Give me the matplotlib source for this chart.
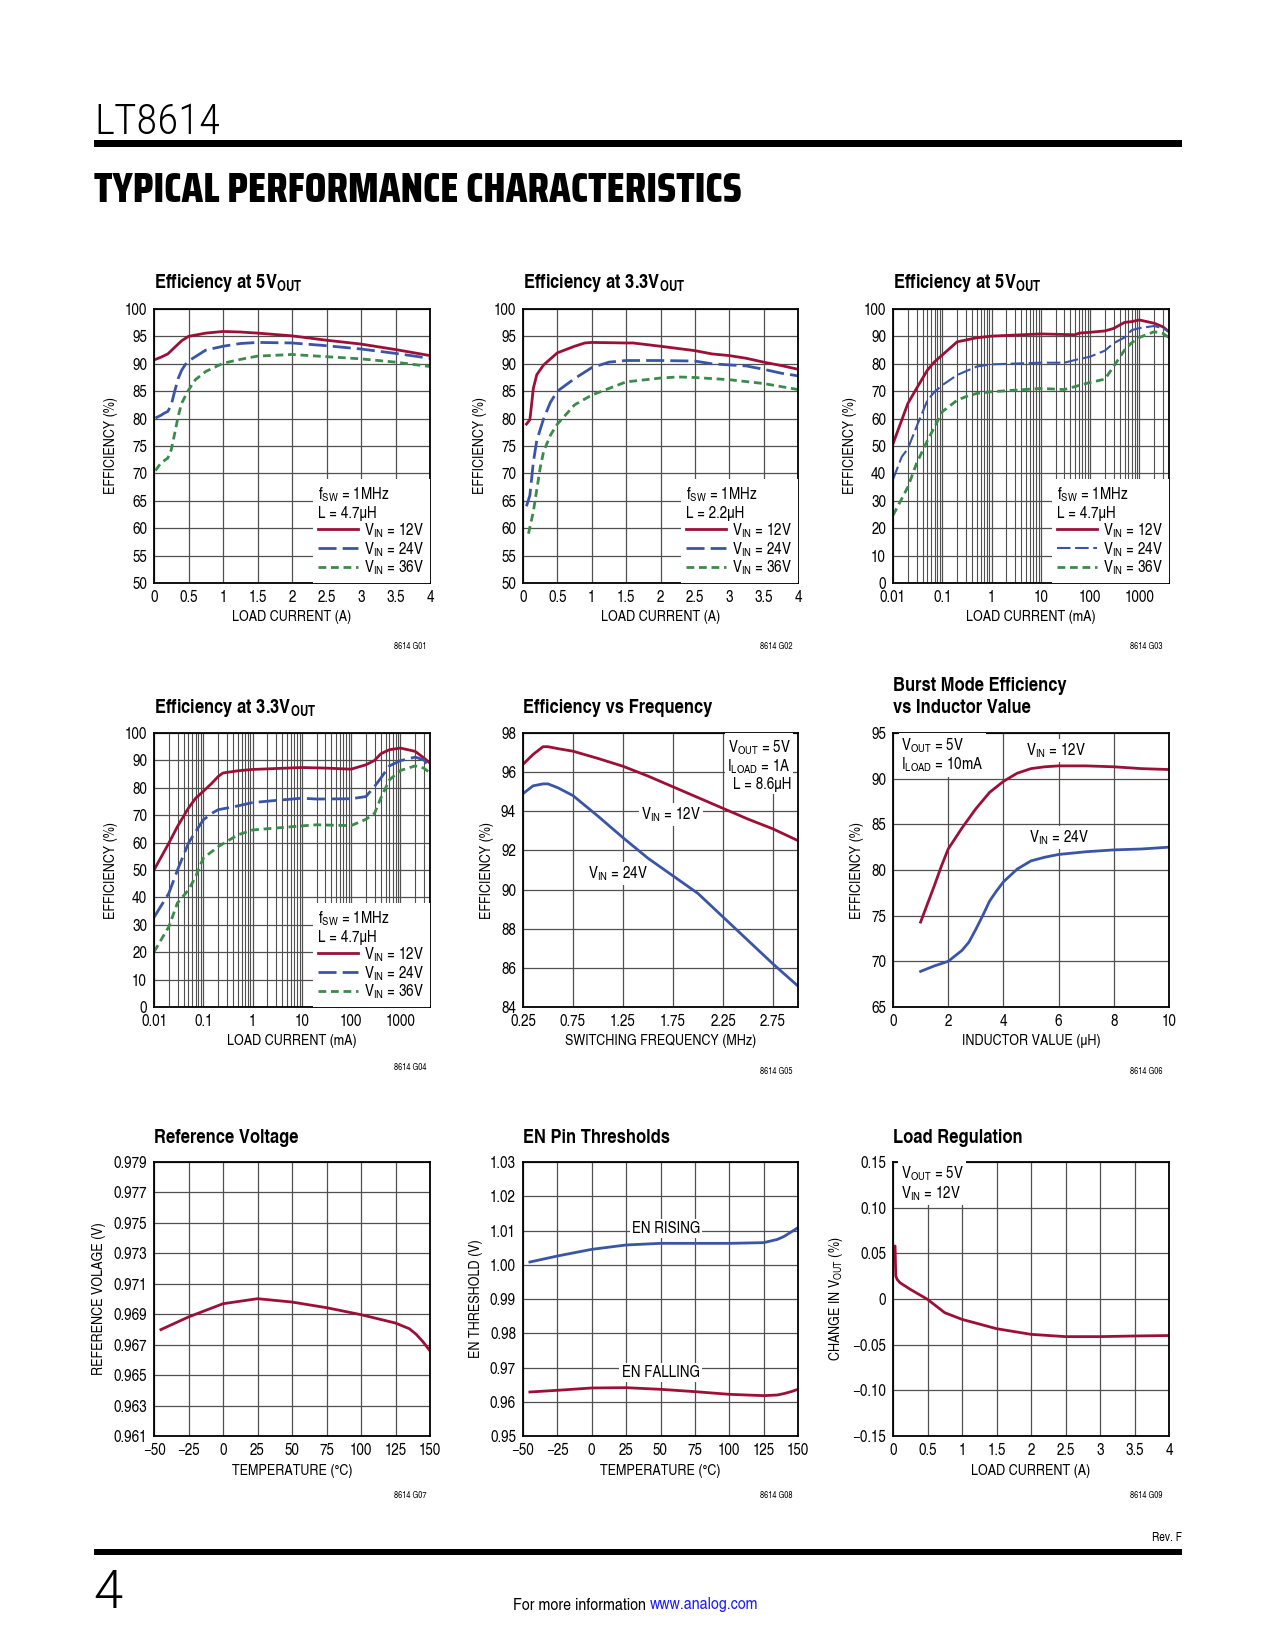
import matplotlib
matplotlib.use("Agg")
import matplotlib.pyplot as plt
from matplotlib.patches import Rectangle
from matplotlib.ticker import LogLocator, NullFormatter

W, H = 1275, 1650
RED = "#9c1038"
BLUE = "#3a55a6"
GREEN = "#3b8b4b"
GRID = "#505050"
BODY = "TeX Gyre Heros Cn"
HEAD = "Saira Condensed"
THIN = "Roboto Condensed"

# ---- G01: efficiency at 5Vout, linear load current (A)
g01_x12 = [0.02, 0.1, 0.2, 0.3, 0.4, 0.5, 0.75, 1.0, 1.25, 1.5, 2.0, 2.5, 3.0, 3.5, 4.0]
g01_y12 = [90.8, 91.2, 91.8, 93.0, 94.2, 95.0, 95.6, 95.9, 95.8, 95.6, 95.1, 94.3, 93.6, 92.6, 91.5]
g01_x24 = [0.02, 0.1, 0.15, 0.2, 0.25, 0.3, 0.35, 0.4, 0.45, 0.5, 0.75, 1.0, 1.25, 1.5, 2.0, 2.5, 3.0, 3.5, 4.0]
g01_y24 = [80.1, 80.6, 81.0, 81.3, 82.5, 85.0, 87.3, 88.8, 89.8, 90.5, 92.5, 93.2, 93.7, 93.9, 93.8, 93.3, 92.7, 91.9, 91.0]
g01_x36 = [0.02, 0.1, 0.2, 0.25, 0.3, 0.35, 0.4, 0.5, 0.6, 0.75, 1.0, 1.25, 1.5, 2.0, 2.5, 3.0, 3.5, 4.0]
g01_y36 = [70.5, 71.9, 72.8, 74.3, 77.3, 80.4, 82.8, 85.2, 87.1, 88.6, 90.1, 90.8, 91.4, 91.7, 91.3, 90.9, 90.3, 89.5]

# ---- G02: efficiency at 3.3Vout
g02_x12 = [0.05, 0.1, 0.12, 0.15, 0.2, 0.3, 0.5, 0.75, 0.9, 1.0, 1.5, 1.6, 2.0, 2.25, 2.5, 2.75, 3.0, 3.25, 3.5, 3.75, 4.0]
g02_y12 = [79.0, 79.8, 82.0, 85.5, 88.0, 89.8, 92.0, 93.2, 93.8, 93.9, 93.8, 93.8, 93.2, 92.8, 92.4, 91.8, 91.5, 91.0, 90.3, 89.7, 89.0]
g02_x24 = [0.05, 0.1, 0.15, 0.2, 0.3, 0.4, 0.5, 0.75, 1.0, 1.25, 1.5, 2.0, 2.5, 2.75, 3.0, 3.25, 3.5, 3.75, 4.0]
g02_y24 = [64.0, 66.0, 72.0, 76.0, 80.0, 83.0, 85.0, 87.3, 89.3, 90.3, 90.6, 90.6, 90.5, 90.0, 89.8, 89.6, 89.0, 88.3, 87.8]
g02_x36 = [0.08, 0.15, 0.2, 0.25, 0.3, 0.4, 0.5, 0.75, 1.0, 1.25, 1.5, 2.0, 2.25, 2.5, 3.0, 3.5, 4.0]
g02_y36 = [59.0, 63.0, 67.0, 71.0, 74.0, 77.0, 79.0, 82.5, 84.3, 85.5, 86.7, 87.4, 87.6, 87.5, 87.1, 86.4, 85.3]

# ---- G03: efficiency at 5Vout, log load current (mA)
g03_x12 = [0.01, 0.02, 0.03, 0.05, 0.07, 0.1, 0.2, 0.5, 1, 10, 50, 60, 100, 200, 300, 500, 700, 1000, 2000, 3000, 4000]
g03_y12 = [50.8, 65.5, 71.0, 77.7, 80.8, 83.2, 88.0, 89.5, 90.1, 90.9, 90.6, 91.2, 91.5, 92.0, 92.9, 95.1, 95.4, 96.0, 94.8, 93.5, 91.7]
g03_x24 = [0.01, 0.015, 0.02, 0.03, 0.05, 0.07, 0.1, 0.2, 0.5, 1, 10, 30, 50, 100, 200, 300, 500, 700, 1000, 2000, 3000, 4000]
g03_y24 = [37.8, 46.0, 49.0, 57.0, 66.7, 69.8, 72.2, 75.9, 79.0, 79.8, 80.4, 80.4, 81.4, 82.6, 84.8, 87.5, 89.6, 92.3, 93.0, 93.8, 93.0, 91.7]
g03_x36 = [0.01, 0.02, 0.03, 0.05, 0.07, 0.1, 0.2, 0.3, 0.5, 1, 10, 30, 100, 200, 300, 500, 700, 1000, 2000, 3000, 4000]
g03_y36 = [24.7, 35.0, 43.6, 52.0, 57.0, 62.5, 66.7, 68.0, 69.2, 69.8, 71.0, 70.6, 73.2, 74.4, 79.0, 85.0, 87.7, 89.6, 91.7, 91.1, 89.6]

# ---- G04: efficiency at 3.3Vout, log load current (mA)
g04_x12 = [0.01, 0.02, 0.03, 0.05, 0.07, 0.1, 0.15, 0.2, 0.25, 0.5, 1, 10, 30, 100, 200, 300, 400, 600, 1000, 2000, 3000, 4000]
g04_y12 = [50.0, 59.8, 65.9, 72.6, 76.2, 78.7, 81.7, 84.1, 85.4, 86.2, 86.7, 87.4, 87.2, 86.8, 88.4, 90.0, 92.4, 93.9, 94.5, 93.3, 90.9, 89.0]
g04_x24 = [0.01, 0.02, 0.03, 0.05, 0.07, 0.1, 0.15, 0.2, 0.3, 0.4, 1, 3, 10, 20, 100, 200, 300, 400, 600, 1000, 2000, 3000, 4000]
g04_y24 = [32.7, 41.5, 50.0, 59.8, 64.0, 68.3, 70.7, 72.0, 72.6, 73.0, 74.6, 75.4, 76.2, 75.9, 76.0, 76.8, 80.5, 83.5, 88.0, 89.9, 91.2, 90.2, 87.2]
g04_x36 = [0.01, 0.02, 0.03, 0.05, 0.07, 0.1, 0.2, 0.5, 1, 10, 20, 100, 200, 300, 400, 600, 1000, 2000, 3000, 4000]
g04_y36 = [20.1, 29.3, 38.0, 42.7, 47.6, 54.3, 58.5, 62.8, 64.6, 66.1, 66.5, 66.2, 68.5, 70.7, 76.2, 82.9, 86.3, 88.0, 87.2, 85.4]

# ---- G05: efficiency vs switching frequency (MHz)
g05_f = [0.25, 0.35, 0.45, 0.5, 0.6, 0.75, 1.0, 1.25, 1.5, 1.75, 2.0, 2.25, 2.5, 2.75, 3.0]
g05_y12 = [96.4, 96.9, 97.3, 97.3, 97.2, 97.07, 96.7, 96.3, 95.8, 95.25, 94.7, 94.15, 93.6, 93.1, 92.5]
g05_y24 = [94.9, 95.3, 95.4, 95.4, 95.2, 94.8, 93.75, 92.65, 91.6, 90.7, 89.8, 88.6, 87.4, 86.2, 85.07]

# ---- G06: burst mode efficiency vs inductor value (uH)
g06_l12 = [1.0, 1.25, 1.5, 1.75, 2.0, 2.5, 3.0, 3.5, 4.0, 4.5, 5.0, 5.5, 6.0, 7.0, 8.0, 9.0, 10.0]
g06_y12 = [74.3, 76.3, 78.3, 80.4, 82.3, 84.6, 86.7, 88.5, 89.7, 90.6, 91.1, 91.3, 91.4, 91.4, 91.3, 91.1, 91.0]
g06_l24 = [1.0, 1.5, 2.0, 2.5, 2.75, 3.0, 3.25, 3.5, 3.75, 4.0, 4.25, 4.5, 5.0, 5.5, 6.0, 7.0, 8.0, 9.0, 10.0]
g06_y24 = [68.9, 69.5, 70.0, 71.2, 72.1, 73.5, 75.0, 76.6, 77.7, 78.7, 79.4, 80.1, 81.0, 81.4, 81.7, 82.0, 82.2, 82.3, 82.5]

# ---- G07: reference voltage vs temperature
g07_t = [-45, -25, 0, 25, 50, 75, 100, 125, 135, 140, 145, 150]
g07_v = [0.96799, 0.96882, 0.96969, 0.97002, 0.96980, 0.96943, 0.96897, 0.96842, 0.96805, 0.96768, 0.96718, 0.96659]

# ---- G08: EN pin thresholds vs temperature
g08_t = [-45, -25, 0, 25, 50, 75, 100, 125, 135, 140, 145, 150]
g08_rise = [1.0008, 1.00255, 1.0045, 1.00577, 1.00625, 1.00625, 1.00625, 1.00645, 1.0074, 1.0083, 1.00956, 1.01083]
g08_fall = [0.96285, 0.96334, 0.96402, 0.96411, 0.96363, 0.96295, 0.96217, 0.96178, 0.96197, 0.96240, 0.96295, 0.96363]

# ---- G09: load regulation
g09_i = [0.02, 0.03, 0.04, 0.06, 0.1, 0.25, 0.5, 0.75, 1.0, 1.5, 2.0, 2.5, 3.0, 3.5, 4.0]
g09_d = [0.058, 0.058, 0.0252, 0.0215, 0.0179, 0.0106, -0.0004, -0.015, -0.0223, -0.0325, -0.0387, -0.0412, -0.0412, -0.0405, -0.040]

# ---- tick labels
LOG_TICKS = [0.01, 0.1, 1, 10, 100, 1000]
LOG_LABELS = ["0.01", "0.1", "1", "10", "100", "1000"]
AMP_TICKS = [0, 0.5, 1, 1.5, 2, 2.5, 3, 3.5, 4]
AMP_LABELS = ["0", "0.5", "1", "1.5", "2", "2.5", "3", "3.5", "4"]
TEMP_TICKS = [-50, -25, 0, 25, 50, 75, 100, 125, 150]
TEMP_LABELS = ["\u221250", "\u221225", "0", "25", "50", "75", "100", "125", "150"]
FREQ_TICKS = [0.25, 0.75, 1.25, 1.75, 2.25, 2.75]
FREQ_LABELS = ["0.25", "0.75", "1.25", "1.75", "2.25", "2.75"]
VREF_TICKS = [0.961, 0.963, 0.965, 0.967, 0.969, 0.971, 0.973, 0.975, 0.977, 0.979]
VREF_LABELS = ["0.961", "0.963", "0.965", "0.967", "0.969", "0.971", "0.973", "0.975", "0.977", "0.979"]
EN_TICKS = [0.95, 0.96, 0.97, 0.98, 0.99, 1.00, 1.01, 1.02, 1.03]
EN_LABELS = ["0.95", "0.96", "0.97", "0.98", "0.99", "1.00", "1.01", "1.02", "1.03"]
REG_TICKS = [-0.15, -0.10, -0.05, 0, 0.05, 0.10, 0.15]
REG_LABELS = ["\u22120.15", "\u22120.10", "\u22120.05", "0", "0.05", "0.10", "0.15"]

plt.rcParams["font.family"] = [BODY, "DejaVu Sans"]
plt.rcParams["mathtext.fontset"] = "custom"
plt.rcParams["mathtext.rm"] = BODY
plt.rcParams["mathtext.it"] = BODY + ":italic"
plt.rcParams["mathtext.bf"] = BODY + ":bold"

FS = 11.8     # tick labels, legends, notes
LFS = 11.0    # axis labels
VIN = [r"V$_{\mathrm{IN}}$ = 12V", r"V$_{\mathrm{IN}}$ = 24V", r"V$_{\mathrm{IN}}$ = 36V"]

fig = plt.figure(figsize=(W / 100, H / 100), dpi=100)


def px_axes(left, top, right, bottom):
    return fig.add_axes([left / W, 1 - bottom / H, (right - left) / W, (bottom - top) / H])


def style(ax, xlabel, ylabel):
    ax.grid(True, which="major", color=GRID, lw=0.9)
    ax.set_axisbelow(True)
    ax.tick_params(which="both", length=0, pad=5, labelsize=FS)
    for s in ax.spines.values():
        s.set_linewidth(1.3)
        s.set_color("black")
    ax.set_xlabel(xlabel, fontsize=LFS, labelpad=4)
    ax.set_ylabel(ylabel, fontsize=LFS, labelpad=5)


def log_x(ax):
    ax.set_xscale("log")
    ax.set_xlim(0.01, 4000)
    ax.set_xticks(LOG_TICKS, labels=LOG_LABELS)
    ax.xaxis.set_minor_locator(LogLocator(base=10, subs=range(2, 10), numticks=20))
    ax.xaxis.set_minor_formatter(NullFormatter())
    ax.grid(True, which="minor", axis="x", color=GRID, lw=0.8)
    ax.set_ylim(0, 100)
    ax.set_yticks(range(0, 101, 10))


def three_lines(ax, xs, ys, blue_lw=2.0):
    ax.plot(xs[0], ys[0], color=RED, lw=2.0, label=VIN[0])
    ax.plot(xs[1], ys[1], color=BLUE, lw=blue_lw, dashes=(6.5, 2.2), label=VIN[1])
    ax.plot(xs[2], ys[2], color=GREEN, lw=2.0, dashes=(2.8, 1.7), label=VIN[2])


def spec_legend(ax, title):
    leg = ax.legend(title=title, alignment="left", loc="lower right", bbox_to_anchor=(1, 0),
                    borderaxespad=0, fancybox=False, framealpha=1, facecolor="white",
                    edgecolor="none", fontsize=FS, title_fontsize=FS, handlelength=2.4,
                    handletextpad=0.4, labelspacing=0.0, borderpad=0.35)
    leg.get_frame().set_linewidth(0)


def note(ax, x, y, s, ha="center"):
    ax.text(x, y, s, ha=ha, va="center", fontsize=FS, linespacing=1.05,
            bbox=dict(fc="white", ec="none", pad=1.5))


def title(x, y, s):
    fig.text(x / W, 1 - y / H, s, fontsize=14.5, fontweight="bold", ha="left", va="baseline")


def fig_id(x, y, s):
    fig.text(x / W, 1 - y / H, s, fontsize=6.5, ha="right", va="center")


def fit_width(t, target_px):
    r = fig.canvas.get_renderer()
    w = t.get_window_extent(r).width
    t.set_fontsize(t.get_fontsize() * target_px / w)


COL = [(154, 430), (523, 798), (893, 1169)]
ROW = [(309, 583), (733, 1007), (1162, 1436)]
EFF = "EFFICIENCY (%)"

# G01
ax = px_axes(COL[0][0], ROW[0][0], COL[0][1], ROW[0][1])
three_lines(ax, [g01_x12, g01_x24, g01_x36], [g01_y12, g01_y24, g01_y36])
ax.set_xlim(0, 4)
ax.set_ylim(50, 100)
ax.set_xticks(AMP_TICKS, labels=AMP_LABELS)
ax.set_yticks(range(50, 101, 5))
style(ax, "LOAD CURRENT (A)", EFF)
spec_legend(ax, "f$_{\\mathrm{SW}}$ = 1MHz\nL = 4.7\u00b5H")

# G02
ax = px_axes(COL[1][0], ROW[0][0], COL[1][1], ROW[0][1])
three_lines(ax, [g02_x12, g02_x24, g02_x36], [g02_y12, g02_y24, g02_y36])
ax.set_xlim(0, 4)
ax.set_ylim(50, 100)
ax.set_xticks(AMP_TICKS, labels=AMP_LABELS)
ax.set_yticks(range(50, 101, 5))
style(ax, "LOAD CURRENT (A)", EFF)
spec_legend(ax, "f$_{\\mathrm{SW}}$ = 1MHz\nL = 2.2\u00b5H")

# G03
ax = px_axes(COL[2][0], ROW[0][0], COL[2][1], ROW[0][1])
three_lines(ax, [g03_x12, g03_x24, g03_x36], [g03_y12, g03_y24, g03_y36], blue_lw=1.5)
log_x(ax)
style(ax, "LOAD CURRENT (mA)", EFF)
spec_legend(ax, "f$_{\\mathrm{SW}}$ = 1MHz\nL = 4.7\u00b5H")

# G04
ax = px_axes(COL[0][0], ROW[1][0], COL[0][1], ROW[1][1])
three_lines(ax, [g04_x12, g04_x24, g04_x36], [g04_y12, g04_y24, g04_y36])
log_x(ax)
style(ax, "LOAD CURRENT (mA)", EFF)
spec_legend(ax, "f$_{\\mathrm{SW}}$ = 1MHz\nL = 4.7\u00b5H")

# G05
ax = px_axes(COL[1][0], ROW[1][0], COL[1][1], ROW[1][1])
ax.plot(g05_f, g05_y12, color=RED, lw=2.0)
ax.plot(g05_f, g05_y24, color=BLUE, lw=2.0)
ax.set_xlim(0.25, 3.0)
ax.set_ylim(84, 98)
ax.set_xticks(FREQ_TICKS, labels=FREQ_LABELS)
ax.set_yticks(range(84, 99, 2))
style(ax, "SWITCHING FREQUENCY (MHz)", EFF)
note(ax, 2.93, 96.4, "V$_{\\mathrm{OUT}}$ = 5V\nI$_{\\mathrm{LOAD}}$ = 1A\nL = 8.6\u00b5H", ha="right")
note(ax, 1.73, 93.85, VIN[0])
note(ax, 1.2, 90.8, VIN[1])

# G06
ax = px_axes(COL[2][0], ROW[1][0], COL[2][1], ROW[1][1])
ax.plot(g06_l12, g06_y12, color=RED, lw=2.0)
ax.plot(g06_l24, g06_y24, color=BLUE, lw=2.0)
ax.set_xlim(0, 10)
ax.set_ylim(65, 95)
ax.set_xticks(range(0, 11, 2))
ax.set_yticks(range(65, 96, 5))
style(ax, "INDUCTOR VALUE (\u00b5H)", EFF)
note(ax, 0.3, 92.6, "V$_{\\mathrm{OUT}}$ = 5V\nI$_{\\mathrm{LOAD}}$ = 10mA", ha="left")
note(ax, 5.9, 93.1, VIN[0])
note(ax, 6.0, 83.55, VIN[1])

# G07
ax = px_axes(COL[0][0], ROW[2][0], COL[0][1], ROW[2][1])
ax.plot(g07_t, g07_v, color=RED, lw=2.0)
ax.set_xlim(-50, 150)
ax.set_ylim(0.961, 0.979)
ax.set_xticks(TEMP_TICKS, labels=TEMP_LABELS)
ax.set_yticks(VREF_TICKS, labels=VREF_LABELS)
style(ax, "TEMPERATURE (\u00b0C)", "REFERENCE VOLAGE (V)")

# G08
ax = px_axes(COL[1][0], ROW[2][0], COL[1][1], ROW[2][1])
ax.plot(g08_t, g08_rise, color=BLUE, lw=2.0)
ax.plot(g08_t, g08_fall, color=RED, lw=2.0)
ax.set_xlim(-50, 150)
ax.set_ylim(0.95, 1.03)
ax.set_xticks(TEMP_TICKS, labels=TEMP_LABELS)
ax.set_yticks(EN_TICKS, labels=EN_LABELS)
style(ax, "TEMPERATURE (\u00b0C)", "EN THRESHOLD (V)")
note(ax, 54, 1.0106, "EN RISING")
note(ax, 50, 0.9685, "EN FALLING")

# G09
ax = px_axes(COL[2][0], ROW[2][0], COL[2][1], ROW[2][1])
ax.plot(g09_i, g09_d, color=RED, lw=2.0)
ax.set_xlim(0, 4)
ax.set_ylim(-0.15, 0.15)
ax.set_xticks(AMP_TICKS, labels=AMP_LABELS)
ax.set_yticks(REG_TICKS, labels=REG_LABELS)
style(ax, "LOAD CURRENT (A)", "CHANGE IN V$_{\\mathrm{OUT}}$ (%)")
note(ax, 0.11, 0.127, "V$_{\\mathrm{OUT}}$ = 5V\nV$_{\\mathrm{IN}}$ = 12V", ha="left")

# titles
title(COL[0][0], 288, r"Efficiency at 5V$_{\mathbf{OUT}}$")
title(COL[1][0], 288, r"Efficiency at 3.3V$_{\mathbf{OUT}}$")
title(COL[2][0], 288, r"Efficiency at 5V$_{\mathbf{OUT}}$")
title(COL[0][0], 713, r"Efficiency at 3.3V$_{\mathbf{OUT}}$")
title(COL[1][0], 713, "Efficiency vs Frequency")
title(COL[2][0], 691, "Burst Mode Efficiency")
title(COL[2][0], 713, "vs Inductor Value")
title(COL[0][0], 1143, "Reference Voltage")
title(COL[1][0], 1143, "EN Pin Thresholds")
title(COL[2][0], 1143, "Load Regulation")

for i, x in enumerate([426, 793, 1162]):
    fig_id(x, 646, f"8614 G0{i + 1}")
fig_id(426, 1067, "8614 G04")
fig_id(793, 1071, "8614 G05")
fig_id(1162, 1071, "8614 G06")
for i, x in enumerate([426, 793, 1162]):
    fig_id(x, 1496, f"8614 G0{i + 7}")

# page furniture
RULE_L, RULE_R = 94, 1182
t = fig.text(94 / W, 1 - 134 / H, "LT8614", fontsize=30, ha="left", va="baseline",
             family=THIN, fontweight=300)
fit_width(t, 126)
fig.add_artist(Rectangle((RULE_L / W, 1 - 146.5 / H), (RULE_R - RULE_L) / W, 6.5 / H,
                         transform=fig.transFigure, color="black", lw=0))
t = fig.text(94 / W, 1 - 202 / H, "TYPICAL PERFORMANCE CHARACTERISTICS", fontsize=26,
             family=[HEAD, BODY], fontweight=800, ha="left", va="baseline")
fit_width(t, 647)
fig.add_artist(Rectangle((RULE_L / W, 1 - 1555 / H), (RULE_R - RULE_L) / W, 6.5 / H,
                         transform=fig.transFigure, color="black", lw=0))
fig.text(RULE_R / W, 1 - 1538 / H, "Rev. F", fontsize=9, ha="right", va="center")
fig.text(93 / W, 1 - 1608 / H, "4", fontsize=38, ha="left", va="baseline",
         family=["Roboto", THIN], fontweight=300)
fig.text(646 / W, 1 - 1605 / H, "For more information", fontsize=12.5, ha="right", va="center")
fig.text(650 / W, 1 - 1605 / H, "www.analog.com", fontsize=12.5, ha="left", va="center",
         color="#1a1aff")

fig.savefig("out.png", dpi=100, facecolor="white")
